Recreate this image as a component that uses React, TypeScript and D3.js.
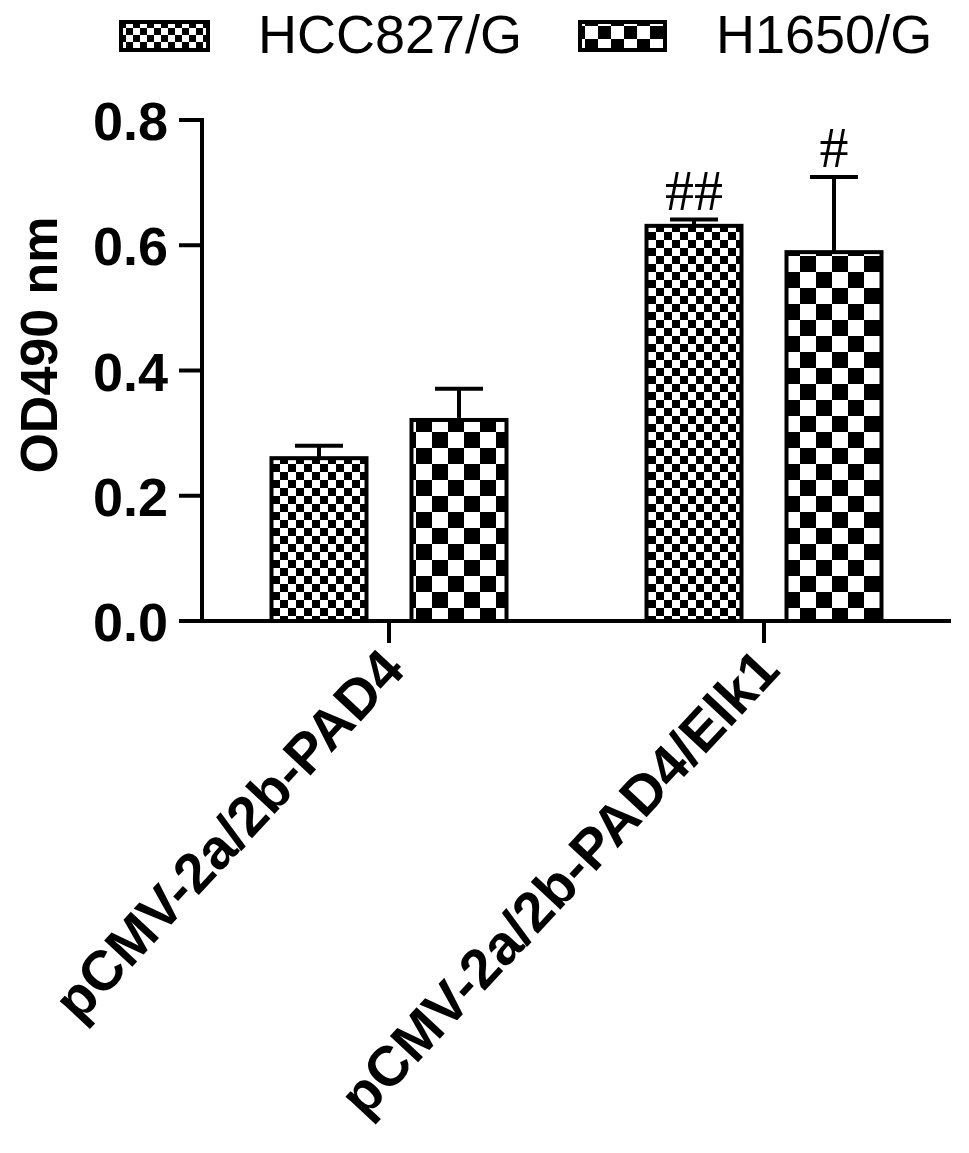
import React from "react";
import * as d3 from "d3";

const categories = ["pCMV-2a/2b-PAD4", "pCMV-2a/2b-PAD4/Elk1"];
const seriesNames = ["HCC827/G", "H1650/G"];
const hccValues = [0.26, 0.631];
const h1650Values = [0.321, 0.589];
const hccErrors = [0.02, 0.01];
const h1650Errors = [0.05, 0.12];
const hccMarks = ["", "##"];
const h1650Marks = ["", "#"];
const yTicks = [0.0, 0.2, 0.4, 0.6, 0.8];

const W = 969;
const H = 1153;

export default function App() {
  const y = d3.scaleLinear().domain([0, 0.8]).range([621, 120]);
  const x = d3.scalePoint<string>().domain(categories).range([389, 764]);
  const xs = d3
    .scaleBand<string>()
    .domain(seriesNames)
    .range([-117.5, 117.5])
    .paddingInner(0.3214)
    .paddingOuter(0);
  const bw = xs.bandwidth();

  const series = [
    { name: seriesNames[0], values: hccValues, errors: hccErrors, marks: hccMarks, fill: "url(#chkSmall)", legendFill: "url(#chkSmallL)" },
    { name: seriesNames[1], values: h1650Values, errors: h1650Errors, marks: h1650Marks, fill: "url(#chkLarge)", legendFill: "url(#chkLargeL)" },
  ];

  const axisX = 202;
  const sw = 4;
  const font = "'Liberation Sans', Arial, Helvetica, sans-serif";

  const checker = (id: string, c: number) => (
    <pattern id={id} patternUnits="userSpaceOnUse" width={2 * c} height={2 * c}>
      <rect x={0} y={0} width={2 * c} height={2 * c} fill="#fff" />
      <rect x={0} y={0} width={c} height={c} fill="#000" />
      <rect x={c} y={c} width={c} height={c} fill="#000" />
    </pattern>
  );

  const legendItems = [
    { box: [121, 22, 87, 28], tx: 258 },
    { box: [580, 22, 85, 28], tx: 716 },
  ];

  return (
    <svg
      width={W}
      height={H}
      style={{ position: "absolute", left: 0, top: 0, background: "#fff" }}
      xmlns="http://www.w3.org/2000/svg"
    >
      <defs>
        {checker("chkSmall", 8)}
        {checker("chkLarge", 16)}
        {checker("chkSmallL", 7)}
        {checker("chkLargeL", 13)}
      </defs>
      <rect x={0} y={0} width={W} height={H} fill="#fff" />

      {/* Legend */}
      {series.map((s, i) => {
        const [bx, by, bwid, bh] = legendItems[i].box;
        return (
          <g key={s.name}>
            <rect x={bx} y={by} width={bwid} height={bh} fill={s.legendFill} stroke="#000" strokeWidth={4} />
            <text x={legendItems[i].tx} y={53} fontFamily={font} fontSize={54} fill="#000">
              {s.name}
            </text>
          </g>
        );
      })}

      {/* Bars */}
      {series.map((s) =>
        categories.map((c, j) => {
          const bx = (x(c) as number) + (xs(s.name) as number);
          const top = y(s.values[j]);
          const errTop = y(s.values[j] + s.errors[j]);
          const cx = bx + bw / 2;
          return (
            <g key={s.name + c}>
              <line x1={cx} x2={cx} y1={top} y2={errTop} stroke="#000" strokeWidth={sw} />
              <line x1={cx - 24} x2={cx + 24} y1={errTop} y2={errTop} stroke="#000" strokeWidth={sw} />
              <rect x={bx} y={top} width={bw} height={y(0) - top} fill={s.fill} stroke="#000" strokeWidth={sw} />
              {s.marks[j] && (
                <text
                  x={cx}
                  y={errTop - 10}
                  textAnchor="middle"
                  fontFamily="'Liberation Serif', 'Times New Roman', serif"
                  fontSize={58}
                  fill="#000"
                >
                  {s.marks[j]}
                </text>
              )}
            </g>
          );
        })
      )}

      {/* Y axis */}
      <line x1={axisX} x2={axisX} y1={y(0.8) - 2} y2={y(0) + 2} stroke="#000" strokeWidth={sw} />
      {yTicks.map((t) => (
        <g key={t}>
          <line x1={179} x2={axisX} y1={y(t)} y2={y(t)} stroke="#000" strokeWidth={sw} />
          <text
            x={168}
            y={y(t) + 20}
            textAnchor="end"
            fontFamily={font}
            fontWeight="bold"
            fontSize={54}
            fill="#000"
          >
            {t.toFixed(1)}
          </text>
        </g>
      ))}
      <text
        transform={`translate(57, 345) rotate(-90)`}
        textAnchor="middle"
        fontFamily={font}
        fontWeight="bold"
        fontSize={52}
        fill="#000"
      >
        OD490 nm
      </text>

      {/* X axis */}
      <line x1={179} x2={951} y1={y(0)} y2={y(0)} stroke="#000" strokeWidth={sw} />
      {categories.map((c) => (
        <g key={c}>
          <line x1={x(c)} x2={x(c)} y1={y(0)} y2={y(0) + 22} stroke="#000" strokeWidth={sw} />
          <text
            transform={`translate(${(x(c) as number) + 18}, 672) rotate(-47)`}
            textAnchor="end"
            fontFamily={font}
            fontWeight="bold"
            fontSize={56}
            fill="#000"
          >
            {c}
          </text>
        </g>
      ))}
    </svg>
  );
}
